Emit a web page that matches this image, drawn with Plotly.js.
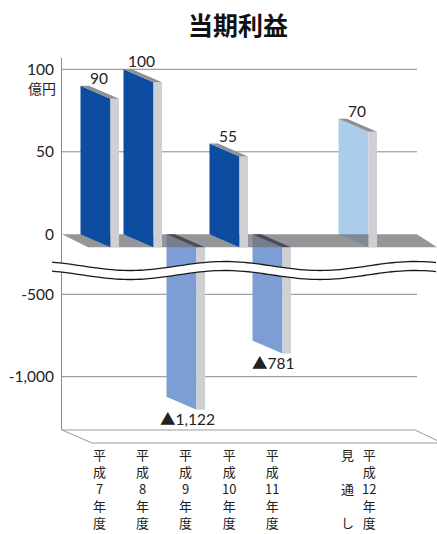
<!DOCTYPE html>
<html>
<head>
<meta charset="utf-8">
<script src="https://cdn.plot.ly/plotly-3.0.1.min.js"></script>
<style>html,body{margin:0;padding:0;background:#fff}#chart{width:437px;height:534px}</style>
</head>
<body>
<div id="chart"></div>
<script>
// ---- data ----
const categories = ['平成7年度', '平成8年度', '平成9年度', '平成10年度', '平成11年度', '', '平成12年度'];
const categoryNotes = ['', '', '', '', '', '', '見通し'];
const profit = [90, 100, -1122, 55, -781, null, 70];
const isForecast = [false, false, false, false, false, false, true];
const topTickVals = [0, 50, 100];
const topTickText = ['0', '50', '100'];
const bottomTickVals = [-1000, -500];
const bottomTickText = ['-1,000', '-500'];
const unitLabel = '億円';
const chartTitle = '当期利益';

// ---- layout geometry (pixels) ----
const W = 437, H = 534;
const plotL = 62, plotR = 437, topY = 58, midY = 268, botY = 430;
const x0px = 95.5, stepPx = 43.0;
const xRange = [(plotL - x0px) / stepPx, (plotR - x0px) / stepPx];
const yTopRange = [-20.42, 106.85];
const yBotRange = [-1323.4, -340.4];

const pxX = p => p * (xRange[1] - xRange[0]) / (plotR - plotL);
const pxTop = p => p * (yTopRange[1] - yTopRange[0]) / (midY - topY);
const pxBot = p => p * (yBotRange[1] - yBotRange[0]) / (botY - midY);
const xOfPx = p => xRange[0] + pxX(p - plotL);
const paperX = p => p / W;
const paperY = p => 1 - p / H;

const hw = pxX(15), sw = pxX(8.5);
const stT = pxTop(13), stB = pxBot(13);

const C_POS = '#0c4ca1', C_NEG = '#7c9ed4', C_FC = '#abcdeb';
const C_SIDE = '#cfd0d3', C_TOP = '#8f9094', C_TOPNEG = '#4b4c51';

function poly(xs, ys, color, yaxis) {
  return {type: 'scatter', mode: 'lines', x: xs, y: ys, fill: 'toself', fillcolor: color,
          line: {width: 0, color: color}, yaxis: yaxis, xaxis: 'x', hoverinfo: 'skip', showlegend: false};
}

const under = [], over = [];
profit.forEach((v, i) => {
  if (v === null) return;
  const xl = i - hw, xr = i + hw, xs = xr + sw;
  if (v >= 0) {
    const col = isForecast[i] ? C_FC : C_POS;
    const target = isForecast[i] ? under : over;
    target.push(poly([xl, xr, xr, xl, xl], [v, v - stT, -stT, 0, v], col, 'y'));
    over.push(poly([xr, xs, xs, xr, xr], [v - stT, v - stT, -stT, -stT, v - stT], C_SIDE, 'y'));
    over.push(poly([xl, xl + sw, xs, xr, xl], [v, v, v - stT, v - stT, v], C_TOP, 'y'));
  } else {
    under.push(poly([xl, xr, xr, xl, xl], [0, -stT, v, v, 0], C_NEG, 'y'));
    under.push(poly([xl, xr, xr, xl, xl], [0, 0, v - stB, v, 0], C_NEG, 'y2'));
    over.push(poly([xr, xs, xs, xr, xr], [-stT, -stT, v, v, -stT], C_SIDE, 'y'));
    over.push(poly([xr, xs, xs, xr, xr], [0, 0, v - stB, v - stB, 0], C_SIDE, 'y2'));
    over.push(poly([xl, xl + sw, xs, xr, xl], [0, 0, -stT, -stT, 0], C_TOPNEG, 'y'));
  }
});

// floor slab
const floor = poly([xOfPx(62), xOfPx(417), xOfPx(437), xOfPx(88), xOfPx(62)],
                   [0, 0, -stT, -stT, 0], 'rgba(114,115,120,0.75)', 'y');

const traces = [...under, floor, ...over];

// ---- shapes ----
const shapes = [];
topTickVals.filter(t => t !== 0).forEach(t => shapes.push({type: 'line', xref: 'paper', yref: 'y',
  x0: paperX(plotL), x1: paperX(417), y0: t, y1: t, line: {color: '#8a8a8a', width: 1}, layer: 'below'}));
bottomTickVals.forEach(t => shapes.push({type: 'line', xref: 'paper', yref: 'y2',
  x0: paperX(plotL), x1: paperX(417), y0: t, y1: t, line: {color: '#8a8a8a', width: 1}, layer: 'below'}));
// bottom base outline
const baseLine = (a, b, c, d) => shapes.push({type: 'line', xref: 'paper', yref: 'paper',
  x0: paperX(a), y0: paperY(b), x1: paperX(c), y1: paperY(d), line: {color: '#9a9a9a', width: 1}});
baseLine(62, 430, 415, 430); baseLine(415, 430, 440, 442);
baseLine(62, 430, 92, 443); baseLine(92, 443, 437, 443);
// axis break waves
const wave = x => 266 + 4.5 * Math.cos(2 * Math.PI * (x - 130) / 190);
const gap = 9;
let up = [], lo = [];
for (let x = 52; x <= 437; x += 4) { up.push([x, wave(x)]); lo.push([x, wave(x) + gap]); }
const toPath = pts => pts.map((p, k) => (k ? 'L' : 'M') + paperX(p[0]).toFixed(5) + ',' + paperY(p[1]).toFixed(5)).join(' ');
shapes.push({type: 'path', xref: 'paper', yref: 'paper', path: toPath(up.concat(lo.slice().reverse())) + ' Z',
  fillcolor: '#ffffff', line: {width: 0}, layer: 'above'});
shapes.push({type: 'path', xref: 'paper', yref: 'paper', path: toPath(up), line: {color: '#1a1a1a', width: 1.3}, layer: 'above'});
shapes.push({type: 'path', xref: 'paper', yref: 'paper', path: toPath(lo), line: {color: '#1a1a1a', width: 1.3}, layer: 'above'});

// ---- annotations ----
const numFont = {family: 'Lato, "Noto Sans CJK JP", sans-serif', size: 15.5, color: '#222'};
const jpFont = {family: '"Noto Sans CJK JP", sans-serif', size: 14, color: '#222'};
const catFont = {family: '"Noto Sans CJK JP", sans-serif', size: 13, color: '#222'};
const annotations = [];
profit.forEach((v, i) => {
  if (v === null) return;
  if (v >= 0) {
    annotations.push({xref: 'x', yref: 'y', x: i + pxX(3), y: v, text: String(v), showarrow: false,
      font: numFont, yanchor: 'middle', yshift: 8});
  } else {
    annotations.push({xref: 'x', yref: 'y2', x: i + pxX(5.5), y: v,
      text: '▲' + Math.abs(v).toLocaleString('en-US'), showarrow: false, font: numFont, yanchor: 'middle', yshift: -22});
  }
});
// vertical category labels: one text block per column, characters stacked
const labelTop = 444;
categories.forEach((c, i) => {
  if (!c) return;
  const parts = c.match(/\d+|./g);
  const note = categoryNotes[i];
  const off = note ? pxX(15.5) : pxX(4);
  annotations.push({xref: 'x', yref: 'paper', x: i + off, y: paperY(labelTop), text: parts.join('<br>'),
    showarrow: false, font: catFont, xanchor: 'center', yanchor: 'top', align: 'center', borderpad: 0});
  if (note) {
    const noteText = note.split('').join('<br>　<br>');
    annotations.push({xref: 'x', yref: 'paper', x: i - pxX(6.5), y: paperY(labelTop), text: noteText,
      showarrow: false, font: catFont, xanchor: 'center', yanchor: 'top', align: 'center', borderpad: 0});
  }
});
annotations.push({xref: 'paper', yref: 'paper', x: paperX(57), y: paperY(87.5), xanchor: 'right', yanchor: 'middle',
  text: unitLabel, showarrow: false, font: jpFont, borderpad: 0});

const axisY = {showgrid: false, zeroline: false, showline: true, linecolor: '#8a8a8a', linewidth: 1,
  ticks: '', tickfont: numFont, ticklabelstandoff: 4, fixedrange: true};

const layout = {
  width: W, height: H, margin: {l: 0, r: 0, t: 0, b: 0},
  paper_bgcolor: '#ffffff', plot_bgcolor: 'rgba(0,0,0,0)', showlegend: false,
  title: {text: chartTitle, x: paperX(238), xanchor: 'center', y: paperY(26), yref: 'container', yanchor: 'middle',
    font: {family: '"Noto Sans CJK JP", sans-serif', size: 25, color: '#111', weight: 'bold'}},
  xaxis: {domain: [paperX(plotL), 1], range: xRange, showgrid: false, zeroline: false, showline: false,
    showticklabels: false, ticks: '', anchor: 'y2', fixedrange: true},
  yaxis: Object.assign({}, axisY, {domain: [paperY(midY), paperY(topY)], range: yTopRange,
    tickvals: topTickVals, ticktext: topTickText, anchor: 'x'}),
  yaxis2: Object.assign({}, axisY, {domain: [paperY(botY), paperY(midY)], range: yBotRange,
    tickvals: bottomTickVals, ticktext: bottomTickText, anchor: 'x'}),
  shapes: shapes, annotations: annotations
};

Plotly.newPlot('chart', traces, layout, {staticPlot: true, displayModeBar: false});
</script>
</body>
</html>
